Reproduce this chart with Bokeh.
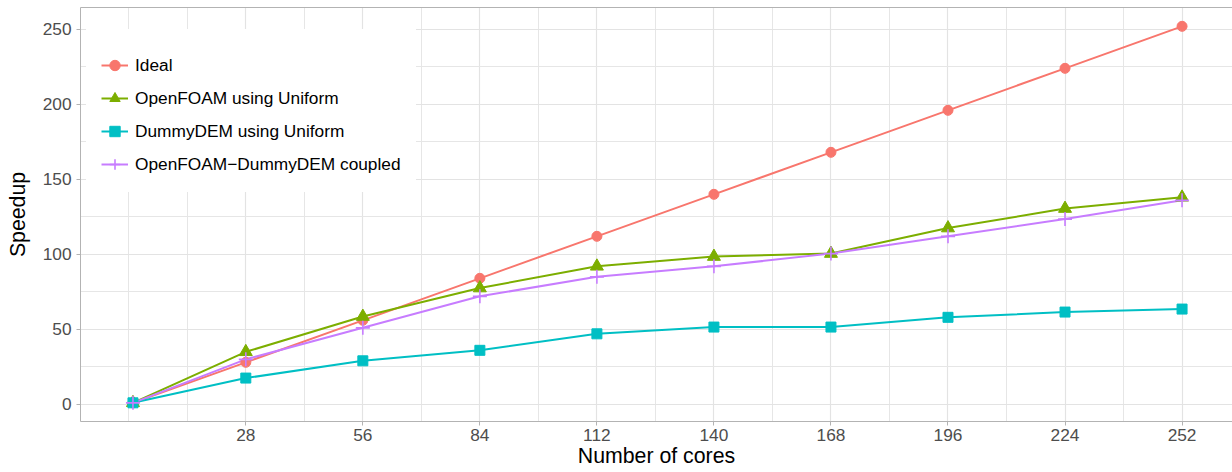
from bokeh.plotting import figure
from bokeh.models import Range1d, FixedTicker, Legend, LegendItem, LinearAxis
from bokeh.embed import file_html
from bokeh.resources import INLINE

cores = [1, 28, 56, 84, 112, 140, 168, 196, 224, 252]
ideal = [1, 28, 56, 84, 112, 140, 168, 196, 224, 252]
openfoam = [1, 35, 58.5, 77.5, 92, 98.5, 100.5, 117.5, 130.5, 138]
dummydem = [1, 17.5, 29, 36, 47, 51.5, 51.5, 58, 61.5, 63.5]
coupled = [1, 30, 51, 72, 85, 92, 100.5, 112, 123.5, 136]

x_ticks = [28, 56, 84, 112, 140, 168, 196, 224, 252]
x_minor = [0, 14, 42, 70, 98, 126, 154, 182, 210, 238]
y_ticks = [0, 50, 100, 150, 200, 250]
y_minor = [25, 75, 125, 175, 225]

names = ["Ideal", "OpenFOAM using Uniform", "DummyDEM using Uniform",
         "OpenFOAM\u2212DummyDEM coupled"]
colors = ["#F8766D", "#7CAE00", "#00BFC4", "#C77CFF"]
markers = ["circle", "triangle", "square", "cross"]
sizes = [10, 13, 10, 14]
series = [ideal, openfoam, dummydem, coupled]

FONT = "Liberation Sans"
BORDER = "#B3B3B3"

p = figure(width=1232, height=472, output_backend="svg", toolbar_location=None,
           x_range=Range1d(-11.55, 264.07), y_range=Range1d(-11.45, 264.55),
           min_border_left=80, min_border_right=0, min_border_top=7,
           min_border_bottom=51)

p.background_fill_color = "white"
p.border_fill_color = "white"
p.outline_line_color = None

p.xaxis.ticker = FixedTicker(ticks=x_ticks, minor_ticks=x_minor)
p.yaxis.ticker = FixedTicker(ticks=y_ticks, minor_ticks=y_minor)

for g in (p.xgrid, p.ygrid):
    g.grid_line_color = "#E3E3E3"
    g.grid_line_width = 1.2
    g.minor_grid_line_color = "#E6E6E6"
    g.minor_grid_line_width = 1

for ax in (p.xaxis, p.yaxis):
    ax.axis_line_color = BORDER
    ax.axis_line_width = 1
    ax.major_tick_line_color = BORDER
    ax.major_tick_out = 4
    ax.major_tick_in = 0
    ax.minor_tick_out = 0
    ax.minor_tick_in = 0
    ax.major_label_text_font = FONT
    ax.major_label_text_font_size = "17.3px"
    ax.major_label_text_color = "#4D4D4D"
    ax.axis_label_text_font = FONT
    ax.axis_label_text_font_size = "21.3px"
    ax.axis_label_text_font_style = "normal"
    ax.axis_label_text_color = "black"

p.xaxis.axis_label = "Number of cores"
p.yaxis.axis_label = "Speedup"
p.xaxis.major_label_standoff = 3
p.xaxis.axis_label_standoff = 0
p.yaxis.major_label_standoff = 5
p.yaxis.axis_label_standoff = 10

# top border of the panel
top_axis = LinearAxis(ticker=FixedTicker(ticks=[]), axis_line_color=BORDER,
                      axis_line_width=1, major_tick_line_color=None,
                      minor_tick_line_color=None, major_label_text_font_size="0px",
                      major_tick_out=0, minor_tick_out=0, major_label_standoff=0)
p.add_layout(top_axis, "above")

lines = []
for ys, c in zip(series, colors):
    lines.append(p.line(cores, ys, line_color=c, line_width=2))

items = []
for name, ys, c, m, s, ln in zip(names, series, colors, markers, sizes, lines):
    if m == "cross":
        r = p.scatter(cores, ys, marker=m, size=s, line_color=c, line_width=1.6,
                      fill_color=None)
    else:
        r = p.scatter(cores, ys, marker=m, size=s, fill_color=c, line_color=c,
                      line_width=1)
    items.append(LegendItem(label=name, renderers=[ln, r]))

legend = Legend(items=items, location=(6, 229), margin=0, padding=14,
                glyph_width=27, glyph_height=26, label_height=26, spacing=7,
                label_standoff=7, title=" ", title_text_font_size="6px",
                title_standoff=2, border_line_color="white",
                background_fill_color="white", background_fill_alpha=1.0,
                label_text_font=FONT, label_text_font_size="17.3px",
                label_text_color="black")
p.add_layout(legend, "center")

open("out.html", "w").write(file_html(p, INLINE))
